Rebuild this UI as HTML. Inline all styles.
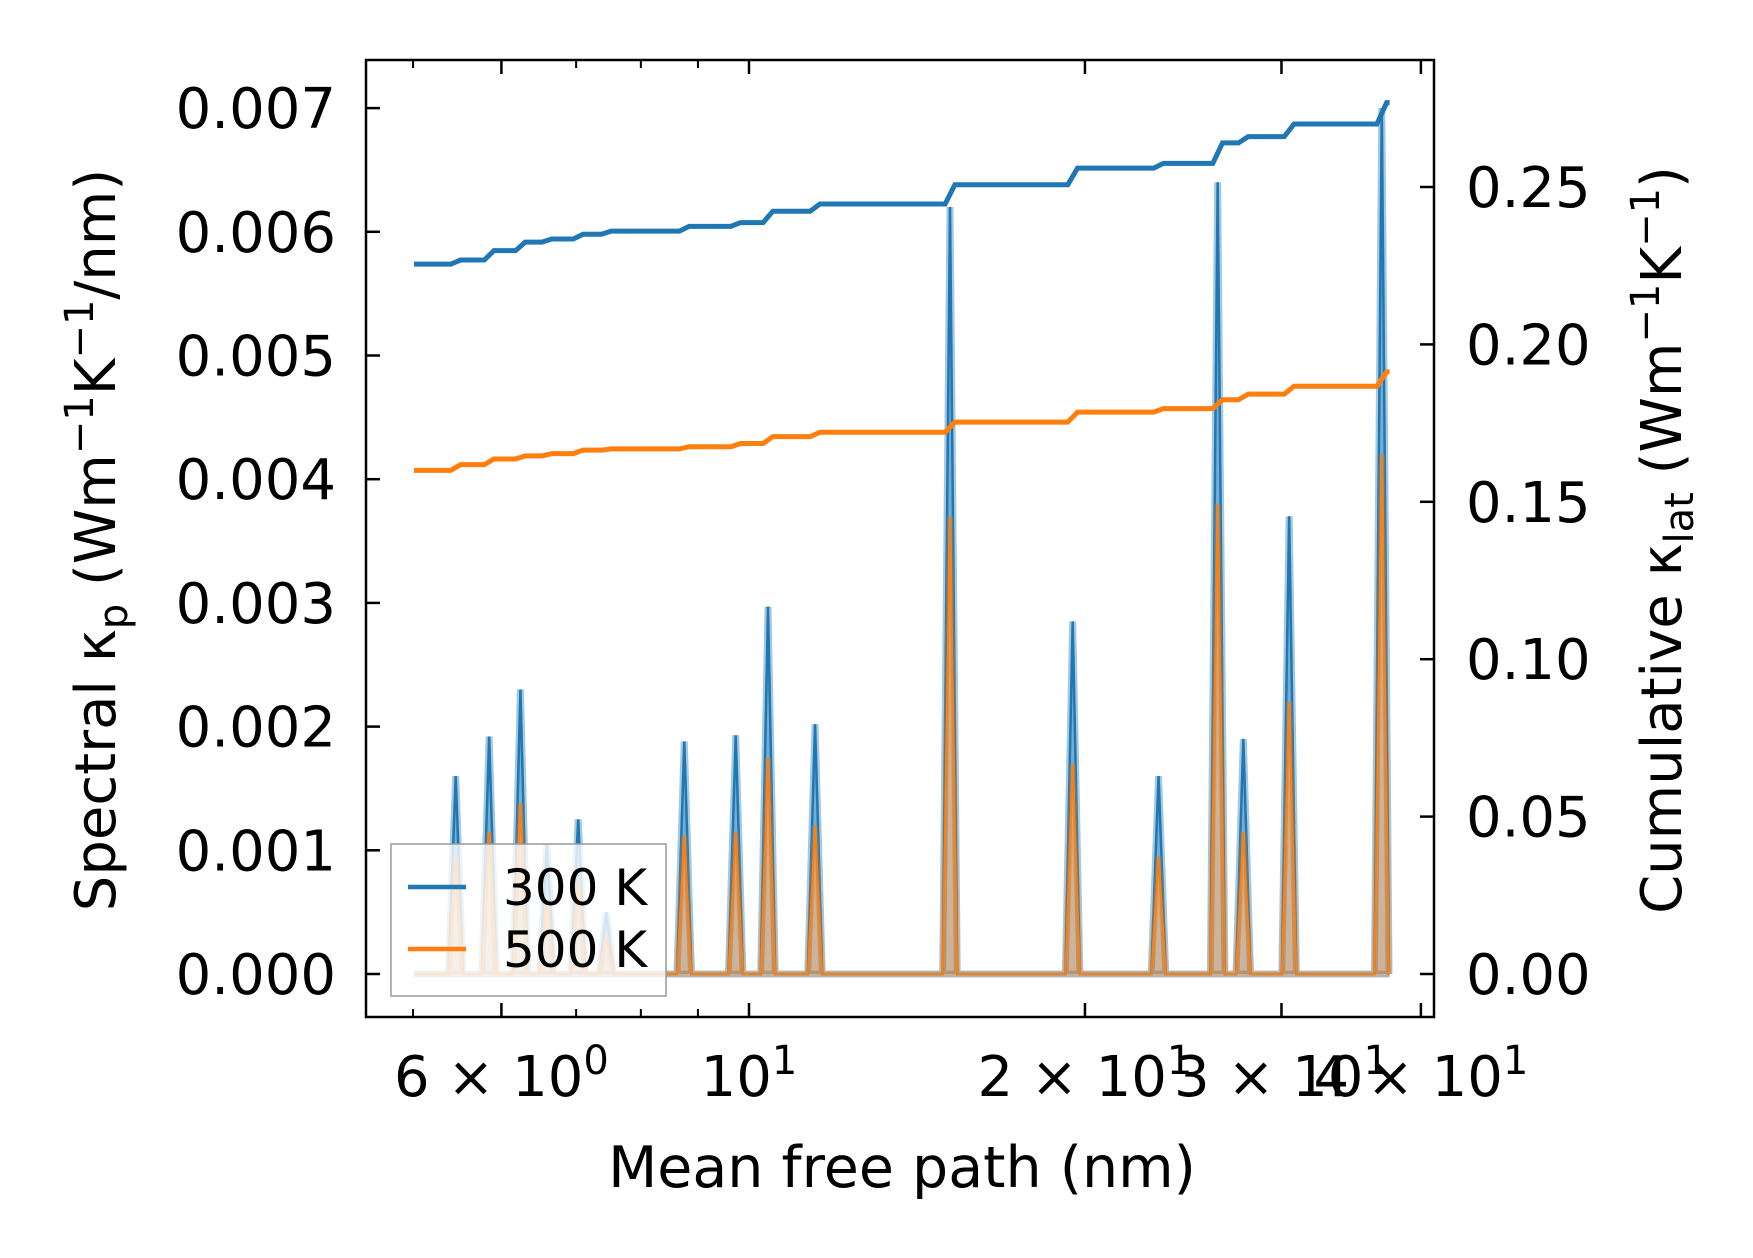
<!DOCTYPE html>
<html><head><meta charset="utf-8"><style>
html,body{margin:0;padding:0;background:#fff}
svg text{font-family:"DejaVu Sans","Liberation Sans",sans-serif;fill:#000}
</style></head><body>
<svg id="chart" width="1753" height="1253" viewBox="0 0 1753 1253" xmlns="http://www.w3.org/2000/svg">
<rect width="1753" height="1253" fill="#fff"/>
<g id="marks"></g>
<rect x="366" y="60" width="1068" height="957" fill="none" stroke="#000" stroke-width="2.5"/>
<g id="ticks"></g>
<text transform="translate(115,540) rotate(-90)" text-anchor="middle" font-size="56">Spectral κ<tspan font-size="40" dy="12">p</tspan><tspan dy="-12"> (Wm</tspan><tspan font-size="40" dy="-22">−1</tspan><tspan dy="22">K</tspan><tspan font-size="40" dy="-22">−1</tspan><tspan dy="22">/nm)</tspan></text>
<text transform="translate(1681,540) rotate(-90)" text-anchor="middle" font-size="56">Cumulative κ<tspan font-size="40" dy="12">lat</tspan><tspan dy="-12"> (Wm</tspan><tspan font-size="40" dy="-22">−1</tspan><tspan dy="22">K</tspan><tspan font-size="40" dy="-22">−1</tspan><tspan dy="22">)</tspan></text>
<text x="902" y="1187" text-anchor="middle" font-size="57">Mean free path (nm)</text>
<g>
<rect x="391" y="844" width="275" height="152" fill="#fff" fill-opacity="0.8" stroke="#999" stroke-width="1.5"/>
<line x1="408" y1="887" x2="466" y2="887" stroke="#1f77b4" stroke-width="4.5"/>
<text x="503" y="905" font-size="50">300 K</text>
<line x1="408" y1="949" x2="466" y2="949" stroke="#ff7f0e" stroke-width="4.5"/>
<text x="503" y="967" font-size="50">500 K</text>
</g>
</svg>
<script>
const peakMfp=[5.46,5.85,6.24,6.59,7.03,7.45,8.75,9.73,10.40,11.46,15.14,19.5,23.28,26.30,27.73,30.48,36.90];
const spec300=[1.6,1.92,2.3,1.05,1.25,0.5,1.88,1.93,2.97,2.02,6.2,2.85,1.6,6.4,1.9,3.7,7.0];
const spec500=[0.95,1.15,1.38,0.6,0.75,0.3,1.12,1.15,1.75,1.2,3.7,1.7,0.95,3.8,1.15,2.2,4.2];
const cum300=[0.2255,0.2268,0.2298,0.2325,0.2335,0.2350,0.2360,0.2375,0.2387,0.2423,0.2446,0.2507,0.2560,0.2575,0.2640,0.2660,0.2700,0.2768];
const cum500=[0.1600,0.1618,0.1636,0.1646,0.1653,0.1664,0.1668,0.1675,0.1685,0.1707,0.1721,0.1753,0.1785,0.1796,0.1824,0.1842,0.1867,0.1913];
const mfpRange=[5.01,37.5];
const yTicks=[0,1,2,3,4,5,6,7];
const y2Ticks=[0,0.05,0.10,0.15,0.20,0.25];
const xMajor=[6,10,20,30,40];
const xMajorLabels=[["6 × 10","0"],["10","1"],["2 × 10","1"],["3 × 10","1"],["4 × 10","1"]];
const xMinor=[5,7,8,9];

const NS="http://www.w3.org/2000/svg";
const X=v=>749+1116*(Math.log10(v)-1);
const Y=v=>974-123.7*v;        // v in units of 0.001
const Y2=v=>974-v*(787/0.25);
const marks=document.getElementById('marks');
const ticks=document.getElementById('ticks');
function mk(tag,attrs,parent){const e=document.createElementNS(NS,tag);for(const k in attrs)e.setAttribute(k,attrs[k]);parent.appendChild(e);return e;}

function specPath(vals){
  let d=`M${X(mfpRange[0])},${Y(0)}`;
  peakMfp.forEach((m,i)=>{
    const a=m*0.985,b=m*1.015;
    d+=` L${X(a)},${Y(0)} L${X(m)},${Y(vals[i])} L${X(b)},${Y(0)}`;
  });
  d+=` L${X(mfpRange[1])},${Y(0)}`;
  return d;
}
function cumPath(vals){
  let d=`M${X(mfpRange[0])},${Y2(vals[0])}`;
  peakMfp.forEach((m,i)=>{
    d+=` L${X(m*0.99)},${Y2(vals[i])} L${X(m*1.01)},${Y2(vals[i+1])}`;
  });
  d+=` L${X(mfpRange[1])},${Y2(vals[vals.length-1])}`;
  return d;
}
const f300=mk('path',{d:specPath(spec300)+'Z',fill:'#1f77b4','fill-opacity':0.35,stroke:'#1f77b4','stroke-opacity':0.4,'stroke-width':7},marks);


const l300=mk('path',{d:specPath(spec300),fill:'none',stroke:'#1f77b4','stroke-width':2.5},marks);


const f500=mk('path',{d:specPath(spec500)+'Z',fill:'#ff7f0e','fill-opacity':0.35,stroke:'#ff7f0e','stroke-opacity':0.3,'stroke-width':6},marks);


const l500=mk('path',{d:specPath(spec500),fill:'none',stroke:'#ff7f0e','stroke-width':2},marks);


const c300=mk('path',{d:cumPath(cum300),fill:'none',stroke:'#1f77b4','stroke-width':5},marks);


const c500=mk('path',{d:cumPath(cum500),fill:'none',stroke:'#ff7f0e','stroke-width':5},marks);



yTicks.forEach(t=>{
  const y=Y(t);
  mk('line',{x1:366,y1:y,x2:380,y2:y,stroke:'#000','stroke-width':2.5},ticks);
  const tx=mk('text',{x:336,y:y+20,'text-anchor':'end','font-size':56},ticks);
  tx.textContent=(t/1000).toFixed(3);
  
  
});
y2Ticks.forEach(t=>{
  const y=Y2(t);
  mk('line',{x1:1420,y1:y,x2:1434,y2:y,stroke:'#000','stroke-width':2.5},ticks);
  const tx=mk('text',{x:1466,y:y+20,'font-size':56},ticks);
  tx.textContent=t.toFixed(2);
  
  
});
xMajor.forEach((v,i)=>{
  const x=X(v);
  mk('line',{x1:x,y1:1017,x2:x,y2:1003,stroke:'#000','stroke-width':2.5},ticks);
  mk('line',{x1:x,y1:60,x2:x,y2:74,stroke:'#000','stroke-width':2.5},ticks);
  const tx=mk('text',{x:x,y:1096,'text-anchor':'middle','font-size':56},ticks);
  
  
  tx.appendChild(document.createTextNode(xMajorLabels[i][0]));
  const s=mk('tspan',{'font-size':40,dy:-22},tx);
  s.textContent=xMajorLabels[i][1];
});
xMinor.forEach(v=>{
  const x=X(v);
  mk('line',{x1:x,y1:1017,x2:x,y2:1009,stroke:'#000','stroke-width':2},ticks);
  mk('line',{x1:x,y1:60,x2:x,y2:68,stroke:'#000','stroke-width':2},ticks);
});
</script>
</body></html>
